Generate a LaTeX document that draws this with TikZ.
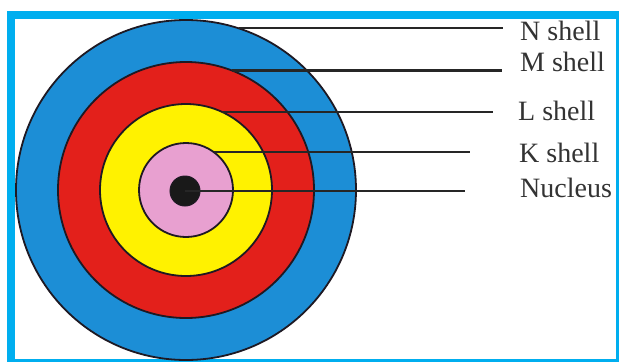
\documentclass[tikz,border=0pt]{standalone}
\usepackage{fontspec}
\setmainfont{Liberation Serif}
\definecolor{framecyan}{RGB}{0,174,239}
\definecolor{shellN}{RGB}{28,142,214}
\definecolor{shellM}{RGB}{227,32,27}
\definecolor{shellL}{RGB}{255,242,0}
\definecolor{shellK}{RGB}{232,160,208}
\definecolor{outline}{RGB}{30,25,35}
\begin{document}
\begin{tikzpicture}[x=1pt,y=-1pt,
  shell/.style={circle,draw=outline,line width=1.8pt,inner sep=0pt,outer sep=0pt},
  leader/.style={draw=black!85,line width=2.2pt},
  lab/.style={anchor=base west,inner sep=0pt,text=black!80,font=\fontsize{28}{28}\selectfont}]
\useasboundingbox (0,0) rectangle (619,362);
\fill[white] (0,0) rectangle (619,362);
\fill[framecyan] (7,11) rectangle (619,362);
\fill[white] (15,19) rectangle (615.7,359);
% shells
\node[shell,fill=shellN,minimum size=340pt] (N) at (186,190) {};
\node[shell,fill=shellM,minimum size=256pt] (M) at (186,190) {};
\node[shell,fill=shellL,minimum size=172pt] (L) at (186,190) {};
\node[shell,fill=shellK,minimum size=94pt] (K) at (186,190) {};
\node[circle,fill=black!90,draw=outline,line width=1pt,inner sep=0pt,minimum size=30pt] (nuc) at (185,191) {};
% leader end points
\coordinate (Ne) at (503,28);
\coordinate (Me) at (502,70);
\coordinate (Le) at (493,112);
\coordinate (Ke) at (470,152);
\coordinate (nuce) at (465,188);
% leaders
\draw[leader] (N.72.4) -- (N.72.4 -| Ne);
\draw[leader] (M.69.6) -- (M.69.6 -| Me);
\draw[leader] (L.65.1) -- (L.65.1 -| Le);
\draw[leader] (K.54) -- (K.54 -| Ke);
\draw[leader] (nuc.center) -- (nuc.center -| nuce);
% labels
\node[lab] (Nl) at (520,40) {N shell};
\node[lab] (Ml) at (520,71) {M shell};
\node[lab] (Ll) at (518,120) {L shell};
\node[lab] (Kl) at (519,162) {K shell};
\node[lab] (nucl) at (520,197) {Nucleus};
\end{tikzpicture}
\end{document}
